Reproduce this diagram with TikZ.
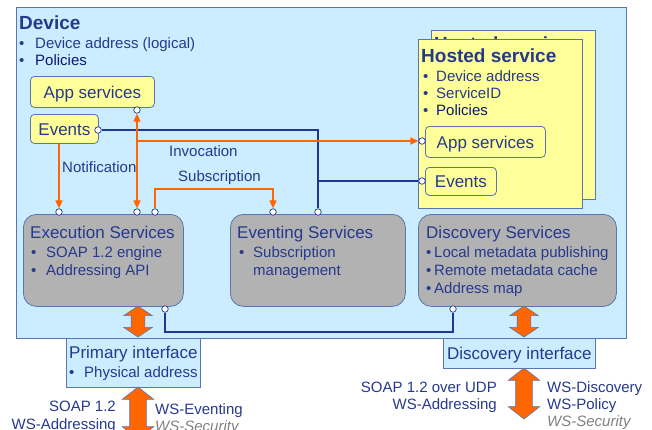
\documentclass[tikz,border=0pt]{standalone}
\usepackage{fontspec}
\setmainfont{Liberation Sans}
\usetikzlibrary{arrows.meta,positioning,shapes.arrows}
\definecolor{devbg}{HTML}{CCECFF}
\definecolor{edge}{HTML}{5A74B4}
\definecolor{ink}{HTML}{26398C}
\definecolor{inkdk}{HTML}{0A1870}
\definecolor{wire}{HTML}{1E3890}
\definecolor{hot}{HTML}{FF6600}
\definecolor{yel}{HTML}{FFFF99}
\definecolor{gry}{HTML}{B2B2B2}
\newcommand\blt[2][16pt]{\makebox[#1][l]{\textbullet}#2}
\tikzset{
  >={Triangle[length=8pt,width=7pt]},
  every node/.style={inner sep=0pt, text=ink},
  dv/.style  ={draw=edge, line width=.8pt, fill=devbg, anchor=north west},
  yc/.style  ={draw=edge, line width=.7pt, fill=yel, anchor=north west, minimum width=164pt, minimum height=169pt},
  yb/.style  ={draw=edge, line width=.8pt, fill=yel, rounded corners=4pt, anchor=north west, lb},
  gb/.style  ={draw=edge, line width=.8pt, fill=gry, rounded corners=13pt, anchor=north west, minimum height=92pt},
  lb/.style  ={font=\fontsize{17}{20}\selectfont, text height=13pt, text depth=0pt},
  hd/.style  ={font=\fontsize{19}{22}\selectfont\bfseries, anchor=base west},
  tt/.style  ={font=\fontsize{17}{20}\selectfont, anchor=base west},
  bl/.style  ={font=\fontsize{15}{18}\selectfont, anchor=base west},
  sec/.style ={bl, text=gray, font=\fontsize{15}{18}\selectfont\itshape},
  port/.style={circle, draw=wire, fill=white, line width=.7pt, minimum size=6.5pt},
  sig/.style ={draw=hot, line width=1.6pt},
  wr/.style  ={draw=wire, line width=1.4pt},
  dbl/.style ={double arrow, fill=hot, draw=edge, line width=.6pt, rotate=90},
  dblS/.style={dbl, inner ysep=6.5pt, double arrow head extend=7.5pt, double arrow tip angle=112},
  dblL/.style={dbl, inner ysep=8pt, double arrow head extend=7.5pt, double arrow tip angle=104}
}
\begin{document}
\begin{tikzpicture}[x=1pt,y=-1pt]
\useasboundingbox (0,0) rectangle (652,429);
\clip (0,0) rectangle (652,429);
% device
\node[dv, minimum width=610pt, minimum height=331pt] (dev) at (16,7) {};
\node[hd] (devT) at (19,29) {Device};
\node[bl] (devA) at (19,48) {\blt{Device address (logical)}};
\node[bl] (devP) at (19,65) {\blt{\color{inkdk}Policies}};
\node[yb, minimum width=124pt, minimum height=31pt] (appL) at (30,76) {App services};
\node[yb, minimum width=68pt, minimum height=29pt] (evL) at (30,114) {Events};

% hosted service (two cards)
\node[yc] (hostB) at (431,30) {};
\node[hd] (hostBT) at (434,50) {Hosted service};
\node[yc] (host) at (418,39) {};
\node[hd] (hostT) at (421,62) {Hosted service};
\node[bl] (hostA) at (423,81) {\blt[13pt]{Device address}};
\node[bl] (hostS) at (423,98) {\blt[13pt]{ServiceID}};
\node[bl] (hostP) at (423,115) {\blt[13pt]{\color{inkdk}Policies}};
\node[yb, minimum width=120pt, minimum height=31pt] (appH) at (425,126) {App services};
\node[yb, minimum width=71pt, minimum height=28pt] (evH) at (425,167) {Events};

% services
\node[gb, minimum width=160pt] (exec) at (23,214) {};
\node[tt] (execT) at (30,238.5) {Execution Services};
\node[bl] (execA) at (31,257) {\blt[15pt]{SOAP 1.2 engine}};
\node[bl] (execB) at (31,275) {\blt[15pt]{Addressing API}};
\node[gb, minimum width=175pt] (evnt) at (230,214) {};
\node[tt] (evntT) at (237,238.5) {Eventing Services};
\node[bl] (evntA) at (239,257) {\blt[14pt]{Subscription}};
\node[bl] (evntB) at (253,275) {management};
\node[gb, minimum width=198pt] (disc) at (418,214) {};
\node[tt] (discT) at (426,238.5) {Discovery Services};
\node[bl] (discA) at (426,257) {\blt[8pt]{Local metadata publishing}};
\node[bl] (discB) at (426,275) {\blt[8pt]{Remote metadata cache}};
\node[bl] (discC) at (426,293) {\blt[8pt]{Address map}};

% interfaces
\node[dv, minimum width=134pt, minimum height=49pt] (prim) at (66,338) {};
\node[tt] (primT) at (69,358) {Primary interface};
\node[bl] (primA) at (69,377) {\blt[15pt]{Physical address}};
\node[dv, lb, minimum width=152pt, minimum height=30pt] (discif) at (443,338) {Discovery interface};

% big arrows
\node[dblS, minimum height=31pt] (a1) at (138,321.5) {};
\node[dblS, minimum height=31pt] (a2) at (524,321.5) {};
\node[dblL, minimum height=52pt] (a3) at (138,413) {};
\node[dblL, minimum height=51pt] (a4) at (524,393.5) {};

% protocols
\node[bl, anchor=base east] (pl1) at (116,411.5) {SOAP 1.2};
\node[bl, anchor=base east] (pl2) at (116,429) {WS-Addressing};
\node[bl] (pr1) at (155,414) {WS-Eventing};
\node[sec] (pr2) at (155,431) {WS-Security};
\node[bl, anchor=base east] (dl1) at (497,392) {SOAP 1.2 over UDP};
\node[bl, anchor=base east] (dl2) at (497,409) {WS-Addressing};
\node[bl] (dr1) at (547,392) {WS-Discovery};
\node[bl] (dr2) at (547,409) {WS-Policy};
\node[sec] (dr3) at (547,426) {WS-Security};

% ports
\node[port] (pAppL) at (137,110) {};
\node[port] (pEvL) at (98,130) {};
\node[port] (pN) at (59,212) {};
\node[port] (pI) at (137,212) {};
\node[port] (pS) at (155,212) {};
\node[port] (pSe) at (273,212) {};
\node[port] (pE) at (318,212) {};
\node[port] (pExB) at (165,309) {};
\node[port] (pDiB) at (453,309) {};
\node[port] (pAppH) at (422,141) {};
\node[port] (pEvH) at (422,181) {};

% wires
\draw[wr] (pEvL) -| (pE);
\draw[wr] (pE |- pEvH) -- (pEvH);
\draw[wr] (pExB) -- ++(0,23) -| (pDiB);

% signals
\draw[sig,<->] (pAppL) -- (pI);
\draw[sig,->] (pAppL |- pAppH) -- (pAppH);
\draw[sig,->] (evL.south -| pN) -- (pN);
\coordinate (subT) at (0,189);
\draw[sig,->] (pS) -- (pS |- subT) -| (pSe);
\node[bl] (lN) at (62,172) {Notification};
\node[bl] (lI) at (169,156) {Invocation};
\node[bl] (lS) at (178,181.5) {Subscription};
\end{tikzpicture}
\end{document}
